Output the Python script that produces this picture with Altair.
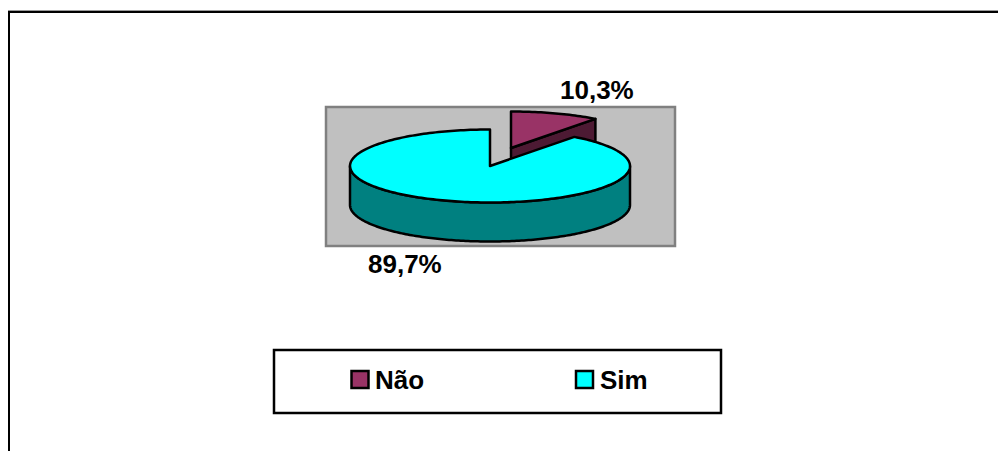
import math
import altair as alt
import pandas as pd

categories = ["Não", "Sim"]
shares = [10.3, 89.7]
pct_labels = ["10,3%", "89,7%"]
colors_top = ["#993366", "#00FFFF"]
colors_side = ["#4D1A33", "#008080"]

W, H = 990, 443
X = alt.Scale(domain=[8, 8 + W], nice=False, zero=False)
Y = alt.Scale(domain=[8 + H, 8], nice=False, zero=False)
FONT = "Liberation Sans"


def ex(v, t="x"):
    return alt.X(f"{v}:Q", scale=X, axis=None) if t == "x" else alt.Y(f"{v}:Q", scale=Y, axis=None)


def ell(cx, cy, deg, rx=140, ry=36.5):
    a = math.radians(deg)
    return (cx + rx * math.sin(a), cy - ry * math.cos(a))


def arc_pts(cx, cy, a0, a1, n=90):
    return [ell(cx, cy, a0 + (a1 - a0) * i / n) for i in range(n + 1)]


def poly(points, fill):
    df = pd.DataFrame(points, columns=["x", "y"])
    df["i"] = range(len(df))
    return alt.Chart(df).mark_line(
        fill=fill, stroke="black", strokeWidth=2.5, strokeJoin="round", strokeCap="round", interpolate="linear"
    ).encode(x=ex("x"), y=ex("y", "y"), order="i:Q")


def box(x0, x1, y0, y1, fill, stroke, sw=2):
    df = pd.DataFrame([dict(x=x0, x2=x1, y=y0, y2=y1)])
    return alt.Chart(df).mark_rect(fill=fill, stroke=stroke, strokeWidth=sw).encode(
        x=ex("x"), x2="x2:Q", y=ex("y", "y"), y2="y2:Q"
    )


def rule(x0, x1, y0, y1, color, sw):
    df = pd.DataFrame([dict(x=x0, x2=x1, y=y0, y2=y1)])
    return alt.Chart(df).mark_rule(color=color, strokeWidth=sw).encode(
        x=ex("x"), x2="x2:Q", y=ex("y", "y"), y2="y2:Q"
    )


def label(txt, x, y):
    df = pd.DataFrame([dict(t=txt, x=x, y=y)])
    return alt.Chart(df).mark_text(
        font=FONT, fontWeight="bold", fontSize=26, align="left", baseline="alphabetic", color="black"
    ).encode(x=ex("x"), y=ex("y", "y"), text="t:N")


sweep = shares[0] / sum(shares) * 360
DEPTH = 39
cNx, cNy = 511, 148
cSx, cSy = 490, 166

nao_end = ell(cNx, cNy, sweep)
nao_face = [(cNx, cNy), nao_end, (nao_end[0], nao_end[1] + DEPTH), (cNx, cNy + DEPTH), (cNx, cNy)]
nao_top = [(cNx, cNy)] + arc_pts(cNx, cNy, 0, sweep, 30) + [(cNx, cNy)]

rim = arc_pts(cSx, cSy, 90, 270, 180)
sim_side = rim + [(px, py + DEPTH) for px, py in reversed(rim)] + [rim[0]]
sim_top = [(cSx, cSy)] + arc_pts(cSx, cSy, sweep, 360, 240) + [(cSx, cSy)]

layers = [
    rule(8, 998, 10.5, 10.5, "#9a9a9a", 1),
    rule(8, 998, 12, 12, "black", 2),
    rule(9, 9, 11, 451, "black", 2),
    box(326, 675, 107, 246, "#C0C0C0", "#808080", 2.5),
    poly(nao_face, colors_side[0]),
    poly(nao_top, colors_top[0]),
    poly(sim_side, colors_side[1]),
    poly(sim_top, colors_top[1]),
    label(pct_labels[0], 560, 99),
    label(pct_labels[1], 368, 273),
    box(274, 721, 350, 413, "white", "black", 2.5),
    box(351.5, 368.5, 371, 388, colors_top[0], "black", 2.5),
    box(576, 593, 371, 388, colors_top[1], "black", 2.5),
    label(categories[0], 375, 389),
    label(categories[1], 600, 389),
]

chart = alt.layer(*layers).properties(
    width=W, height=H, padding=0, autosize=alt.AutoSizeParams(type="none"),
    background="white"
).configure_view(stroke=None)
chart.save("out.html", embed_options={"renderer": "svg", "actions": False})
